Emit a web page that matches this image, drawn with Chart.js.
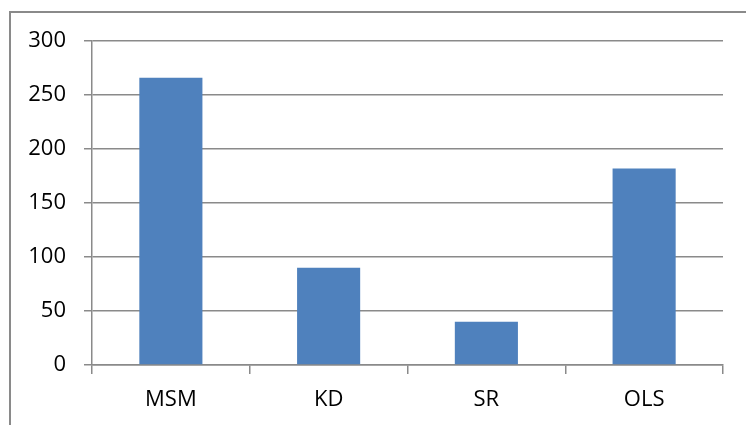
<!DOCTYPE html>
<html>
<head>
<meta charset="utf-8">
<script src="https://cdn.jsdelivr.net/npm/chart.js@4/dist/chart.umd.min.js"></script>
<style>
  html, body { margin: 0; padding: 0; background: #fff; }
  #wrap { position: relative; width: 746px; height: 425px; overflow: hidden; }
  #frame {
    position: absolute; left: 9px; top: 11px; width: 800px; height: 500px;
    border-left: 2px solid #8a8a8a; border-top: 2px solid #8a8a8a;
    box-sizing: border-box;
  }
  #c { position: absolute; left: 0; top: 0; }
</style>
</head>
<body>
<div id="wrap">
  <div id="frame"></div>
  <canvas id="c" width="746" height="425"></canvas>
</div>
<script>
// Methods compared and their values
const categories = ['MSM', 'KD', 'SR', 'OLS'];
const values = [266, 90, 40, 182];
const yTicks = [0, 50, 100, 150, 200, 250, 300];

const lineColor = '#8a8a8a';
const fontSpec = { family: "'Open Sans', sans-serif", size: 22 };

new Chart(document.getElementById('c'), {
  type: 'bar',
  data: {
    labels: categories,
    datasets: [{
      data: values,
      backgroundColor: '#4F81BD',
      borderWidth: 0,
      categoryPercentage: 0.4,
      barPercentage: 1.0
    }]
  },
  options: {
    responsive: false,
    devicePixelRatio: 1,
    animation: false,
    layout: { padding: { top: 41, right: 23, left: 0, bottom: 0 } },
    plugins: { legend: { display: false }, tooltip: { enabled: false } },
    scales: {
      x: {
        offset: true,
        grid: {
          offset: true,
          drawOnChartArea: false,
          drawTicks: true,
          tickLength: 9,
          color: lineColor,
          lineWidth: 1.5
        },
        border: { display: true, color: lineColor, width: 1.5 },
        ticks: { color: '#000', font: fontSpec, padding: 13, maxRotation: 0 },
        afterFit: (s) => { s.height = 60; }
      },
      y: {
        min: yTicks[0],
        max: yTicks[yTicks.length - 1],
        afterBuildTicks: (s) => { s.ticks = yTicks.map(v => ({ value: v })); },
        grid: {
          color: lineColor,
          lineWidth: 1.5,
          drawTicks: true,
          tickLength: 8
        },
        border: { display: true, color: lineColor, width: 1.5 },
        ticks: { color: '#000', font: fontSpec, padding: 18 },
        afterFit: (s) => { s.width = 92; }
      }
    }
  }
});
</script>
</body>
</html>
